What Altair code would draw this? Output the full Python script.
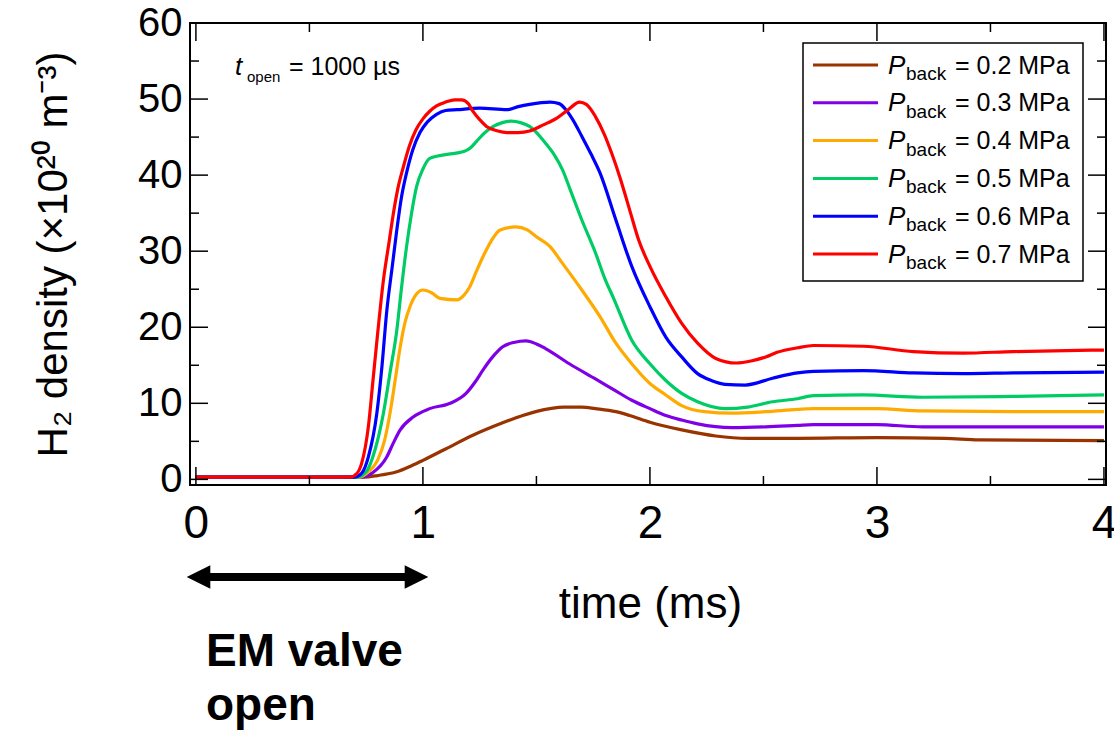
import altair as alt
import pandas as pd

# ---------------- data ----------------
t_02 = [0.0, 0.74, 0.80, 0.885, 0.95, 1.00, 1.10, 1.22, 1.34, 1.44, 1.56, 1.62, 1.70, 1.76, 1.85,
        1.91, 2.00, 2.14, 2.29, 2.43, 2.65, 3.00, 3.30, 3.45, 4.00]
v_02 = [0.3, 0.3, 0.5, 1.0, 1.8, 2.5, 4.0, 5.8, 7.3, 8.4, 9.3, 9.5, 9.5, 9.3, 8.9,
        8.4, 7.5, 6.5, 5.7, 5.4, 5.4, 5.5, 5.4, 5.2, 5.1]

t_03 = [0.0, 0.73, 0.78, 0.84, 0.87, 0.90, 0.957, 1.03, 1.12, 1.19, 1.23, 1.265, 1.31, 1.35, 1.40,
        1.455, 1.50, 1.54, 1.645, 1.76, 1.84, 1.92, 2.00, 2.07, 2.14, 2.21, 2.36, 2.51, 2.65, 2.72,
        3.00, 3.20, 4.00]
v_03 = [0.3, 0.3, 0.9, 2.9, 4.8, 6.5, 8.2, 9.3, 10.0, 11.3, 12.8, 14.4, 16.2, 17.4, 18.0,
        18.2, 17.8, 17.2, 15.2, 13.2, 11.8, 10.4, 9.3, 8.4, 7.8, 7.3, 6.8, 6.9, 7.1, 7.2,
        7.2, 6.9, 6.9]

t_04 = [0.0, 0.72, 0.76, 0.80, 0.83, 0.855, 0.88, 0.90, 0.92, 0.943, 0.97, 1.00, 1.04, 1.075, 1.15,
        1.18, 1.206, 1.235, 1.265, 1.30, 1.34, 1.41, 1.46, 1.50, 1.56, 1.615, 1.70, 1.78, 1.85, 1.92,
        2.00, 2.07, 2.14, 2.24, 2.36, 2.51, 2.65, 2.72, 3.00, 3.20, 3.60, 4.00]
v_04 = [0.3, 0.3, 1.0, 2.5, 5.0, 8.7, 13.5, 17.4, 20.5, 22.7, 24.3, 24.9, 24.5, 23.8, 23.6,
        24.2, 25.3, 27.3, 29.3, 31.3, 32.8, 33.2, 32.8, 31.9, 30.6, 28.4, 24.9, 21.4, 17.9, 15.2,
        12.6, 11.1, 9.7, 8.9, 8.7, 8.9, 9.2, 9.3, 9.3, 9.0, 8.9, 8.9]

t_05 = [0.0, 0.71, 0.75, 0.79, 0.826, 0.855, 0.885, 0.905, 0.928, 0.95, 0.972, 1.00, 1.03, 1.10, 1.18,
        1.21, 1.235, 1.27, 1.31, 1.35, 1.39, 1.43, 1.47, 1.54, 1.58, 1.615, 1.65, 1.70, 1.76, 1.80,
        1.84, 1.92, 2.00, 2.07, 2.14, 2.21, 2.33, 2.43, 2.54, 2.65, 2.72, 2.94, 3.20, 3.60, 4.00]
v_05 = [0.3, 0.3, 1.0, 4.0, 8.7, 14.0, 19.6, 25.0, 30.6, 35.0, 38.5, 40.8, 42.2, 42.7, 43.1,
        43.6, 44.4, 45.5, 46.4, 46.9, 47.1, 46.9, 46.4, 44.2, 42.6, 40.7, 38.0, 34.1, 29.8, 26.5,
        23.8, 18.3, 15.2, 13.0, 11.3, 10.2, 9.3, 9.5, 10.2, 10.6, 11.0, 11.1, 10.8, 10.9, 11.1]

t_06 = [0.0, 0.70, 0.73, 0.76, 0.797, 0.82, 0.84, 0.865, 0.885, 0.905, 0.928, 0.955, 0.987, 1.02, 1.06,
        1.10, 1.15, 1.25, 1.37, 1.42, 1.47, 1.56, 1.60, 1.63, 1.66, 1.70, 1.74, 1.78, 1.85, 1.92,
        2.00, 2.07, 2.14, 2.21, 2.27, 2.33, 2.42, 2.54, 2.65, 2.72, 2.94, 3.16, 3.38, 3.60, 4.00]
v_06 = [0.3, 0.3, 0.8, 3.0, 8.7, 15.0, 21.9, 28.0, 32.8, 37.0, 40.3, 43.3, 45.6, 47.0, 48.0,
        48.5, 48.6, 48.8, 48.6, 49.0, 49.3, 49.6, 49.4, 48.6, 47.3, 45.1, 42.8, 40.3, 34.1, 28.0,
        22.7, 18.7, 16.1, 13.9, 13.0, 12.5, 12.4, 13.3, 14.0, 14.2, 14.3, 14.0, 13.9, 14.0, 14.1]

t_07 = [0.0, 0.68, 0.71, 0.73, 0.76, 0.78, 0.80, 0.826, 0.85, 0.87, 0.89, 0.914, 0.94, 0.97, 1.00,
        1.03, 1.06, 1.10, 1.14, 1.17, 1.20, 1.22, 1.25, 1.28, 1.33, 1.37, 1.42, 1.47, 1.53, 1.59,
        1.64, 1.69, 1.72, 1.76, 1.80, 1.83, 1.87, 1.91, 1.95, 2.00, 2.07, 2.14, 2.21, 2.29, 2.38,
        2.45, 2.51, 2.56, 2.65, 2.72, 2.94, 3.16, 3.38, 3.60, 4.00]
v_07 = [0.3, 0.3, 0.8, 2.1, 7.0, 13.0, 19.0, 26.2, 31.0, 35.0, 38.3, 41.1, 43.8, 46.0, 47.4,
        48.4, 49.1, 49.6, 49.9, 49.9, 49.4, 48.4, 47.3, 46.4, 45.8, 45.6, 45.6, 45.8, 46.6, 47.5,
        48.6, 49.6, 49.3, 47.7, 45.3, 43.0, 39.5, 35.5, 31.5, 28.0, 24.0, 20.5, 17.9, 15.9, 15.3,
        15.6, 16.1, 16.7, 17.3, 17.6, 17.5, 16.8, 16.6, 16.8, 17.0]

series_t = [t_02, t_03, t_04, t_05, t_06, t_07]
series_v = [v_02, v_03, v_04, v_05, v_06, v_07]
series_labels = ["0.2", "0.3", "0.4", "0.5", "0.6", "0.7"]
series_colors = ["#993300", "#7F00E6", "#FFAA00", "#00CC66", "#0000FF", "#FF0000"]

x_major = [0, 1, 2, 3, 4]
x_minor = [0.5, 1.5, 2.5, 3.5]
y_major = [0, 10, 20, 30, 40, 50, 60]
y_minor = [5, 15, 25, 35, 45, 55]

x_title = "time (ms)"
y_title = "H\u2082 density (\u00d710\u00b2\u2070 m\u207b\u00b3)"
note_lines = ["EM valve", "open"]

# ---------------- layout ----------------
FONT = "Liberation Sans"
W, H = 916, 462
xs = alt.Scale(domain=[-0.026, 4.009], nice=False, zero=False)
ys = alt.Scale(domain=[-0.74, 60.0], nice=False, zero=False)
one = pd.DataFrame({"k": [0]})

xaxis = alt.Axis(values=x_major, format="d", labelFontSize=46, labelPadding=16, labelFont=FONT,
                 labelColor="black", labelFlush=False, labelOverlap=False,
                 ticks=False, tickSize=0, domain=False, grid=False,
                 title=x_title, titleFont=FONT, titleFontSize=44, titleFontWeight="normal",
                 titleColor="black", titleX=460, titleY=132, titleAlign="center",
                 titleBaseline="alphabetic")
yaxis = alt.Axis(values=y_major, format="d", labelFontSize=40, labelPadding=8, labelFont=FONT,
                 labelColor="black", labelOverlap=False,
                 ticks=False, tickSize=0, domain=False, grid=False,
                 title=y_title, titleFont=FONT, titleFontSize=42, titleFontWeight="normal",
                 titleColor="black", titleX=-137, titleY=231, titleAngle=270,
                 titleAlign="center", titleBaseline="middle")

X = lambda f: alt.X(f, scale=xs, axis=xaxis)
Y = lambda f: alt.Y(f, scale=ys, axis=yaxis)

layers = []

# data lines
for i in range(len(series_t)):
    df = pd.DataFrame({"t": series_t[i], "v": series_v[i]})
    layers.append(
        alt.Chart(df).mark_line(color=series_colors[i], strokeWidth=3.2, interpolate="monotone")
        .encode(x=X("t:Q"), y=Y("v:Q"), order=alt.Order("t:Q"))
    )

# inward ticks on all four sides
for vals, length in ((x_major, 18), (x_minor, 9)):
    d = pd.DataFrame({"t": vals})
    layers.append(alt.Chart(d).mark_rule(color="black", strokeWidth=1.5).encode(
        x=X("t:Q"), y=alt.value(H), y2=alt.value(H - length)))
    layers.append(alt.Chart(d).mark_rule(color="black", strokeWidth=1.5).encode(
        x=X("t:Q"), y=alt.value(0), y2=alt.value(length)))
for vals, length in ((y_major, 18), (y_minor, 9)):
    d = pd.DataFrame({"v": vals})
    layers.append(alt.Chart(d).mark_rule(color="black", strokeWidth=1.5).encode(
        y=Y("v:Q"), x=alt.value(0), x2=alt.value(length)))
    layers.append(alt.Chart(d).mark_rule(color="black", strokeWidth=1.5).encode(
        y=Y("v:Q"), x=alt.value(W), x2=alt.value(W - length)))

# legend box
layers.append(alt.Chart(one).mark_rect(fill="white", stroke="black", strokeWidth=1.5).encode(
    x=alt.value(613), x2=alt.value(893), y=alt.value(20), y2=alt.value(258)))
for i, lab in enumerate(series_labels):
    yc = 42 + 37.8 * i
    layers.append(alt.Chart(one).mark_rule(color=series_colors[i], strokeWidth=3).encode(
        x=alt.value(623), x2=alt.value(688), y=alt.value(yc)))
    layers.append(alt.Chart(one).mark_text(text="P", font=FONT, fontSize=26, fontStyle="italic",
                                           align="left", baseline="alphabetic", color="black")
                  .encode(x=alt.value(698), y=alt.value(yc + 8.5)))
    layers.append(alt.Chart(one).mark_text(text="back", font=FONT, fontSize=19,
                                           align="left", baseline="alphabetic", color="black")
                  .encode(x=alt.value(716), y=alt.value(yc + 15)))
    layers.append(alt.Chart(one).mark_text(text=f"= {lab} MPa", font=FONT, fontSize=25,
                                           align="left", baseline="alphabetic", color="black")
                  .encode(x=alt.value(765), y=alt.value(yc + 8.5)))

# t_open annotation
layers.append(alt.Chart(one).mark_text(text="t", font=FONT, fontSize=26, fontStyle="italic",
                                       align="left", baseline="alphabetic", color="black")
              .encode(x=alt.value(45), y=alt.value(52)))
layers.append(alt.Chart(one).mark_text(text="open", font=FONT, fontSize=15,
                                       align="left", baseline="alphabetic", color="black")
              .encode(x=alt.value(57), y=alt.value(59)))
layers.append(alt.Chart(one).mark_text(text="= 1000 \u00b5s", font=FONT, fontSize=25,
                                       align="left", baseline="alphabetic", color="black")
              .encode(x=alt.value(99), y=alt.value(52)))

# EM valve arrow and note
layers.append(alt.Chart(one).mark_rule(color="black", strokeWidth=8).encode(
    x=alt.value(10), x2=alt.value(226), y=alt.value(554)))
layers.append(alt.Chart(one).mark_point(shape="M -1 0 L 1 -1 L 1 1 Z", size=560, filled=True,
                                        color="black", opacity=1, strokeWidth=0)
              .encode(x=alt.value(8.5), y=alt.value(554)))
layers.append(alt.Chart(one).mark_point(shape="M 1 0 L -1 -1 L -1 1 Z", size=560, filled=True,
                                        color="black", opacity=1, strokeWidth=0)
              .encode(x=alt.value(226.5), y=alt.value(554)))
layers.append(alt.Chart(one).mark_text(text=note_lines[0], font=FONT, fontSize=46, fontWeight="bold",
                                       align="left", baseline="alphabetic", color="black")
              .encode(x=alt.value(16), y=alt.value(643)))
layers.append(alt.Chart(one).mark_text(text=note_lines[1], font=FONT, fontSize=46, fontWeight="bold",
                                       align="left", baseline="alphabetic", color="black")
              .encode(x=alt.value(16), y=alt.value(697)))

chart = (alt.layer(*layers)
         .properties(width=W, height=H, autosize=alt.AutoSizeParams(type="none"),
                     padding={"left": 190, "top": 23, "right": 8, "bottom": 246},
                     background="white")
         .configure_view(stroke="black", strokeWidth=2))

chart.save("out.html", embed_options={"renderer": "svg", "actions": False})
